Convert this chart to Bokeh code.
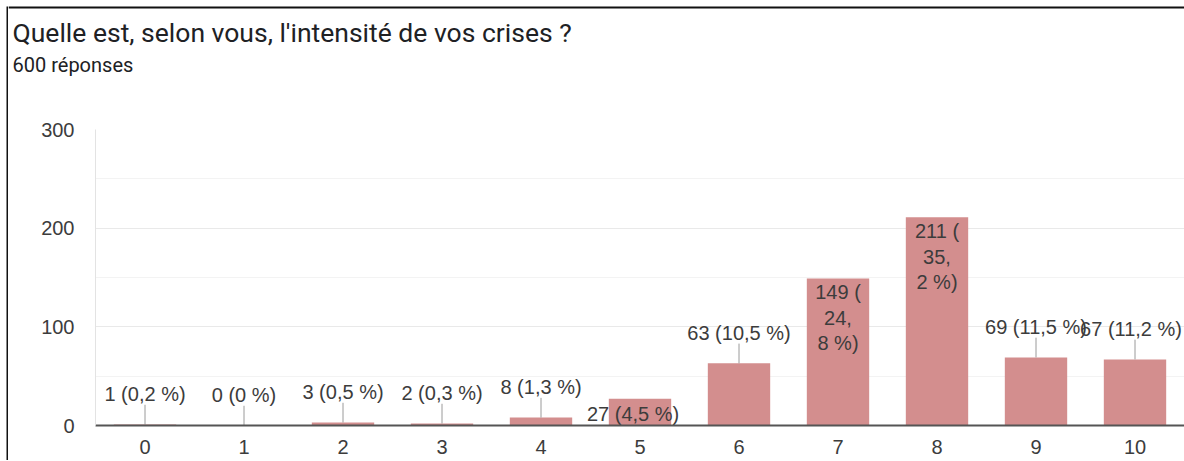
from bokeh.plotting import figure
from bokeh.layouts import column, row
from bokeh.models import FixedTicker, Range1d, Span
from bokeh.core.properties import value
from bokeh.embed import file_html
from bokeh.resources import INLINE

# ---- data ----
categories = ["0", "1", "2", "3", "4", "5", "6", "7", "8", "9", "10"]
counts = [1, 0, 3, 2, 8, 27, 63, 149, 211, 69, 67]
percents = ["0,2", "0", "0,5", "0,3", "1,3", "4,5", "10,5", "24,8", "35,2", "11,5", "11,2"]
y_ticks = [0, 100, 200, 300]
y_minor_ticks = [50, 150, 250]
title_text = "Quelle est, selon vous, l'intensité de vos crises ?"
subtitle_text = "600 réponses"
label_modes = ["above", "above", "above", "above", "above", "inside_bottom",
               "above", "inside_top", "inside_top", "above", "above"]

TFONT = "Roboto"
CFONT = "Liberation Sans"
BAR = "#d38e8e"
TXT = "#3c3c3c"
FRAME_COL = "#111111"
W = 1176
TOTAL_H = 460
LEFT = 87
PX_PER_CAT = 99.0

# ---- left frame strip (dark border of the card) ----
strip = figure(width=8, height=TOTAL_H, x_axis_type=None, y_axis_type=None,
               output_backend="svg", toolbar_location=None, title=None,
               min_border_left=6, min_border_right=0, min_border_top=6, min_border_bottom=0)
strip.frame_align = False
strip.outline_line_color = None
strip.grid.visible = False
strip.background_fill_color = FRAME_COL
strip.border_fill_color = "white"

# ---- header (title + subtitle) ----
TH = 98
tf = figure(width=W, height=TH, x_range=Range1d(0, W), y_range=Range1d(0, TH),
            x_axis_type=None, y_axis_type=None, output_backend="svg",
            toolbar_location=None, min_border=0, title=None)
tf.frame_align = False
tf.outline_line_color = None
tf.grid.visible = False
tf.add_layout(Span(location=TH - 7, dimension="width", line_color=FRAME_COL, line_width=2))
tf.text(x=[4], y=[TH - 47.5], text=[title_text], text_baseline="bottom",
        text_font=value(TFONT), text_font_size="26.5px", text_color="#202124")
tf.text(x=[4], y=[TH - 76], text=[subtitle_text], text_baseline="bottom",
        text_font=value(TFONT), text_font_size="20px", text_color="#202124")

# ---- chart ----
x_end = -0.5 + (W - LEFT) / PX_PER_CAT
p = figure(width=W, height=TOTAL_H - TH, x_range=Range1d(-0.5, x_end), y_range=Range1d(0, 300),
           output_backend="svg", toolbar_location=None, title=None,
           min_border_left=LEFT, min_border_right=0, min_border_top=31,
           min_border_bottom=TOTAL_H - TH - 31 - 296)
p.frame_align = False
p.outline_line_color = None
p.background_fill_color = "white"
p.border_fill_color = "white"

xs = list(range(len(categories)))
p.vbar(x=xs, top=counts, width=0.63, fill_color=BAR, line_color=None)

texts = [f"{c} ({pc} %)" for c, pc in zip(counts, percents)]

ax, ay0, ay1, at, atx = [], [], [], [], []
ix_t, iy_t, it_t = [], [], []
ix_b, iy_b, it_b = [], [], []
for x, c, t, m in zip(xs, counts, texts, label_modes):
    if m == "above":
        ax.append(x); ay0.append(c); ay1.append(c + 20); at.append(t)
        atx.append(x - 0.04 if x == xs[-1] else x)   # keep last label inside the chart
    elif m == "inside_top":
        ix_t.append(x); iy_t.append(c - 3)
        it_t.append(t.replace(" (", " (\n", 1).replace(",", ",\n", 1))
    else:
        ix_b.append(x - 0.07); iy_b.append(1); it_b.append(t)

p.segment(x0=ax, y0=ay0, x1=ax, y1=ay1, line_color="#9a9a9a", line_width=1)
p.text(x=atx, y=ay1, text=at, text_align="center", text_baseline="bottom",
       text_font=value(CFONT), text_font_size="20px", text_color=TXT)
p.text(x=ix_t, y=iy_t, text=it_t, text_align="center", text_baseline="top",
       text_font=value(CFONT), text_font_size="20px", text_color=TXT, text_line_height=1.15)
p.text(x=ix_b, y=iy_b, text=it_b, text_align="center", text_baseline="bottom",
       text_font=value(CFONT), text_font_size="20px", text_color=TXT)

p.xaxis.ticker = FixedTicker(ticks=xs)
p.xaxis.major_label_overrides = {x: c for x, c in zip(xs, categories)}
p.xaxis.major_label_text_font = CFONT
p.xaxis.major_label_text_font_size = "20px"
p.xaxis.major_label_text_color = TXT
p.xaxis.major_label_standoff = 8
p.xaxis.major_tick_line_color = None
p.xaxis.minor_tick_line_color = None
p.xaxis.axis_line_color = "#555555"
p.xaxis.axis_line_width = 2

p.yaxis.ticker = FixedTicker(ticks=y_ticks, minor_ticks=y_minor_ticks)
p.yaxis.major_label_text_font = CFONT
p.yaxis.major_label_text_font_size = "20px"
p.yaxis.major_label_text_color = TXT
p.yaxis.major_label_standoff = 15
p.yaxis.major_tick_line_color = None
p.yaxis.minor_tick_line_color = None
p.yaxis.axis_line_color = "#e3e3e3"

p.xgrid.grid_line_color = None
p.ygrid.grid_line_color = "#e9e9e9"
p.ygrid.minor_grid_line_color = "#f3f3f3"

layout = row(strip, column(tf, p, spacing=0), spacing=0)

open("out.html", "w").write(file_html(layout, INLINE))
